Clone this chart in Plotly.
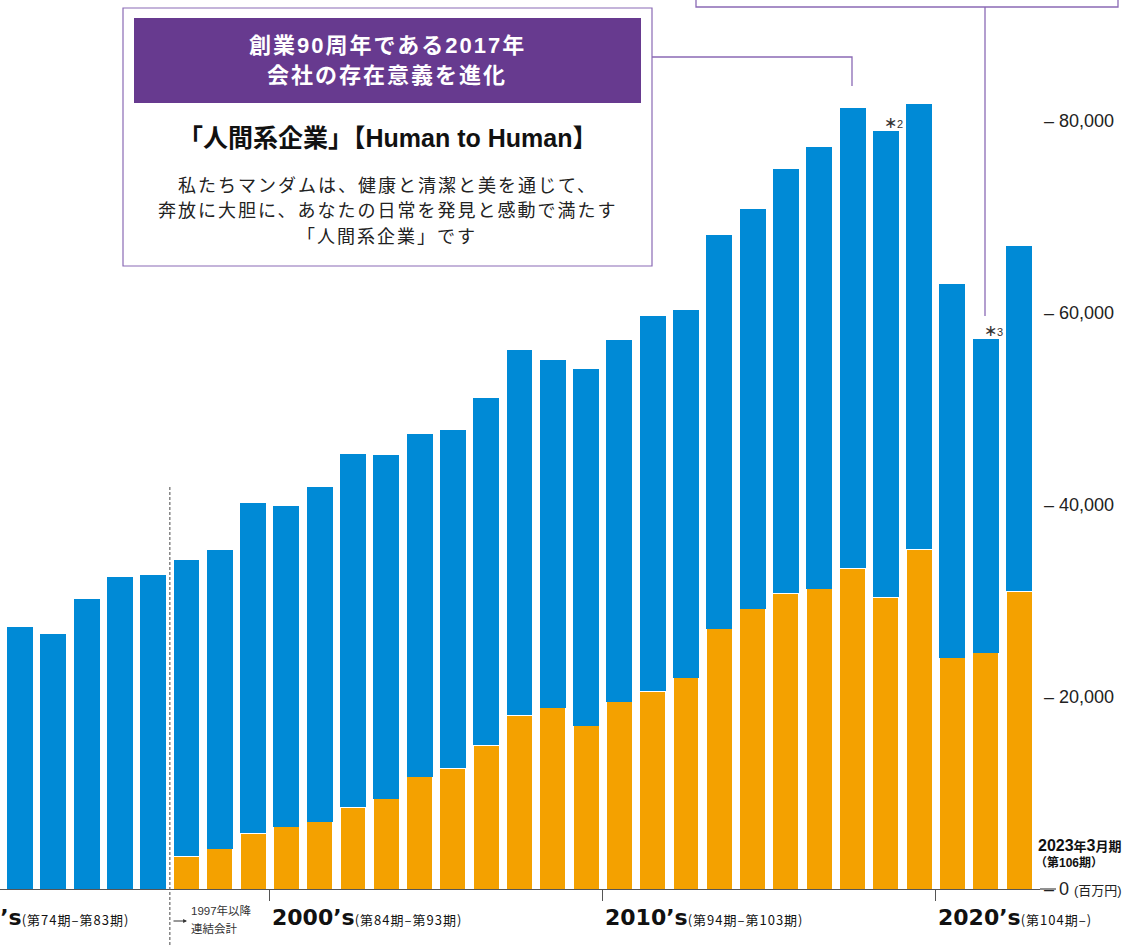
import plotly.graph_objects as go

# ---- data (百万円) ----
periods = [75, 76, 77, 78, 79, 80, 81, 82, 83, 84, 85, 86, 87, 88, 89, 90,
           91, 92, 93, 94, 95, 96, 97, 98, 99, 100, 101, 102, 103, 104, 105, 106]
total_sales = [26200, 27300, 26600, 30200, 32500, 32700, 34300, 35300, 40200, 39900,
               41900, 45300, 45200, 47400, 47800, 51100, 56100, 55100, 54200, 57200,
               59700, 60300, 68100, 70800, 75000, 77300, 81400, 79000, 81800, 63000,
               57300, 67000]
overseas_sales = [0, 0, 0, 0, 0, 0, 3400, 4200, 5800, 6500, 7000, 8500, 9400, 11700,
                  12600, 15000, 18100, 18900, 17000, 19500, 20600, 22000, 27100, 29200,
                  30800, 31300, 33400, 30400, 35400, 24100, 24600, 31000]
rest_sales = [t - o for t, o in zip(total_sales, overseas_sales)]

y_ticks = [0, 20000, 40000, 60000, 80000]
y_ticktext = ["– 0 <span style='font-size:13px'>(百万円)</span>",
              "– 20,000", "– 40,000", "– 60,000", "– 80,000"]
decade_ticks = [83.5, 93.5, 103.5]

BLUE = "#008ad6"
ORANGE = "#f4a100"
PURPLE = "#673a8f"
PURPLE_LINE = "#8a6ab5"
FONT = "Liberation Sans, Noto Sans CJK JP, sans-serif"
DECADE_FONT = "DejaVu Sans, Noto Sans CJK JP, sans-serif"

W, H = 1040, 889


def px(x):
    return x / W


def py(y):
    return (H - y) / H


fig = go.Figure()
fig.add_trace(go.Bar(x=periods, y=overseas_sales, marker_color=ORANGE,
                     marker_line=dict(color="white", width=1), hoverinfo="skip"))
fig.add_trace(go.Bar(x=periods, y=rest_sales, marker_color=BLUE,
                     marker_line_width=0, hoverinfo="skip"))

fig.update_layout(
    width=1128, height=945,
    margin=dict(l=0, r=88, t=0, b=56),
    barmode="stack", bargap=0.22,
    showlegend=False,
    plot_bgcolor="white", paper_bgcolor="white",
    font=dict(family=FONT, color="#222"),
    xaxis=dict(range=[75.4, 106.63], tickvals=decade_ticks, ticks="outside",
               ticklen=11, tickwidth=1.3, tickcolor="#555", showticklabels=False,
               showgrid=False, zeroline=False, showline=True, linecolor="#555",
               linewidth=1.3),
    yaxis=dict(range=[0, 92604], side="right", tickvals=y_ticks, ticktext=y_ticktext,
               ticks="", showgrid=False, zeroline=False, showline=False,
               ticklabelstandoff=3,
               tickfont=dict(size=18, color="#222", family=FONT)),
)

shapes = []
# baseline extension to the 0 label
shapes.append(dict(type="line", xref="paper", yref="paper", x0=1, x1=px(1056),
                   y0=0, y1=0, line=dict(color="#555", width=1.3)))
# consolidated accounting divider
shapes.append(dict(type="line", xref="x", yref="paper", x0=80.5, x1=80.5,
                   y0=py(950), y1=py(487), line=dict(color="#666", width=1.2,
                                                     dash="3px,2px")))
# callout box
shapes.append(dict(type="rect", xref="paper", yref="paper", x0=px(123), x1=px(652),
                   y0=py(266), y1=py(8), line=dict(color=PURPLE_LINE, width=1.2),
                   fillcolor="white", layer="above"))
shapes.append(dict(type="rect", xref="paper", yref="paper", x0=px(134), x1=px(641),
                   y0=py(103), y1=py(18), line=dict(width=0),
                   fillcolor=PURPLE, layer="above"))
shapes.append(dict(type="path", xref="paper", yref="paper",
                   path=f"M{px(652)},{py(57)} L{px(852)},{py(57)} L{px(852)},{py(86)}",
                   line=dict(color=PURPLE_LINE, width=1.3), layer="above"))
# top-right box remnant and connector
shapes.append(dict(type="path", xref="paper", yref="paper",
                   path=f"M{px(696)},{py(-5)} L{px(696)},{py(7)} L{px(1118)},{py(7)} L{px(1118)},{py(-5)}",
                   line=dict(color=PURPLE_LINE, width=1.3), layer="above"))
shapes.append(dict(type="line", xref="paper", yref="paper", x0=px(985), x1=px(985),
                   y0=py(7), y1=py(316), line=dict(color=PURPLE_LINE, width=1.3),
                   layer="above"))
fig.update_layout(shapes=shapes)

ann = []


def add_text(text, x, y, size, color="#222", xanchor="center", xref="paper",
             yanchor="middle", xshift=0, yshift=0, family=FONT):
    ann.append(dict(text=text, x=x, y=y, xref=xref, yref="paper", showarrow=False,
                    xanchor=xanchor, yanchor=yanchor, xshift=xshift, yshift=yshift,
                    font=dict(size=size, color=color, family=family)))


# header
add_text("<b><span style='letter-spacing:2px'>創業90周年である2017年</span></b>",
         px(387), py(45), 22, "white")
add_text("<b><span style='letter-spacing:2px'>会社の存在意義を進化</span></b>",
         px(387), py(75), 22, "white")
add_text("<b>「人間系企業」【Human to Human】</b>", px(387), py(138), 25, "#111")
body = ["私たちマンダムは、健康と清潔と美を通じて、",
        "奔放に大胆に、あなたの日常を発見と感動で満たす",
        "「人間系企業」です"]
for line, yy in zip(body, [186, 211, 237]):
    add_text(f"<span style='letter-spacing:2px'>{line}</span>", px(387), py(yy), 18,
             "#222")

# decade labels
small = "font-size:13px;font-family:Noto Sans CJK JP;letter-spacing:1px"
add_text(f"<b>1990’s</b><span style='{small}'>(第74期–第83期)</span>",
         px(131), py(918), 22, "#111", xanchor="right", family=DECADE_FONT)
add_text(f"<b>2000’s</b><span style='{small}'>(第84期–第93期)</span>",
         83.5, py(918), 22, "#111", xanchor="left", xref="x", family=DECADE_FONT)
add_text(f"<b>2010’s</b><span style='{small}'>(第94期–第103期)</span>",
         93.5, py(918), 22, "#111", xanchor="left", xref="x", family=DECADE_FONT)
add_text(f"<b>2020’s</b><span style='{small}'>(第104期–)</span>",
         103.5, py(918), 22, "#111", xanchor="left", xref="x", family=DECADE_FONT)

# consolidated note
ann.append(dict(text="", x=px(187), y=py(921), xref="paper", yref="paper",
                showarrow=True, ax=-15, ay=0, arrowhead=2, arrowsize=0.7,
                arrowwidth=1.1, arrowcolor="#333", standoff=0, startstandoff=0))
add_text("1997年以降", px(189), py(910), 11.5, "#333", xanchor="left")
add_text("連結会計", px(189), py(928), 11.5, "#333", xanchor="left")

# latest period
add_text("<b>2023<span style='font-size:13px'>年</span>3<span style='font-size:13px'>月期</span></b>",
         px(1036), py(845), 16, "#111", xanchor="left")
add_text("<b>（第106期）</b>", px(1033), py(862), 12, "#111", xanchor="left")

# footnote marks
for per, mark in [(102, "2"), (105, "3")]:
    i = periods.index(per)
    ann.append(dict(text=f"∗<span style='font-size:11px'>{mark}</span>", x=per,
                    y=total_sales[i], xref="x", yref="y", showarrow=False,
                    xanchor="center", yanchor="bottom", xshift=8, yshift=-2,
                    font=dict(size=16, color="#333", family=FONT)))

fig.update_layout(annotations=ann)
fig.write_html("out.html", config={"displayModeBar": False},
               post_script="document.body.style.margin='0';")
